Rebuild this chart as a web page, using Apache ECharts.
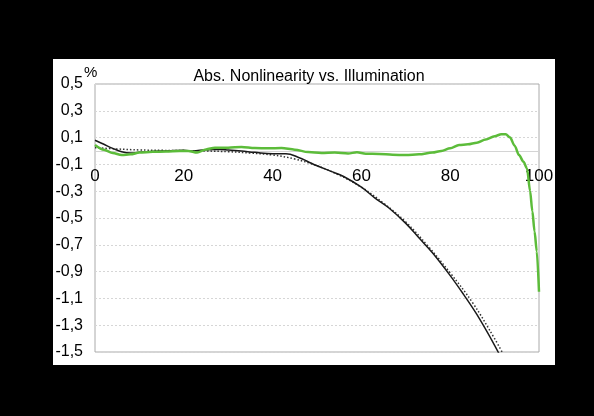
<!DOCTYPE html>
<html>
<head>
<meta charset="utf-8">
<script src="https://cdn.jsdelivr.net/npm/echarts@6/dist/echarts.min.js"></script>
<style>
  html, body { margin: 0; padding: 0; background: #000; }
  #panel { position: absolute; left: 53px; top: 59px; width: 502px; height: 306px; background: #fff; }
  #chart { position: absolute; left: 0; top: 0; width: 594px; height: 416px; }
</style>
</head>
<body>
<div id="panel"></div>
<div id="chart"></div>
<script>
// Tick values
const xTicks = [0, 20, 40, 60, 80, 100];
const yTicks = [-1.5, -1.3, -1.1, -0.9, -0.7, -0.5, -0.3, -0.1, 0.1, 0.3, 0.5];

// Measured nonlinearity (black solid)
const blackX = [0, 2, 4, 6, 8, 10, 12, 15, 18, 20, 22, 25, 28, 30, 33, 36, 40, 43, 46, 48, 50, 53, 56, 60, 63, 66, 70, 73, 76, 80, 83, 86, 90, 92];
const blackY = [0.08, 0.05, 0.02, -0.005, -0.015, -0.01, -0.005, 0.0, 0.003, 0.005, 0.0, 0.01, 0.012, 0.008, 0.0, -0.01, -0.02, -0.02, -0.05, -0.08, -0.11, -0.15, -0.19, -0.27, -0.35, -0.42, -0.54, -0.65, -0.76, -0.93, -1.07, -1.22, -1.45, -1.58];

// Fit (dotted)
const fitX = [0, 5, 10, 15, 20, 25, 30, 35, 40, 45, 50, 55, 60, 65, 70, 75, 80, 85, 90, 92];
const fitY = [0.025, 0.015, 0.008, 0.005, 0.003, 0.0, -0.005, -0.015, -0.03, -0.06, -0.11, -0.18, -0.27, -0.39, -0.53, -0.71, -0.91, -1.13, -1.40, -1.52];

// Corrected nonlinearity (green)
const greenX = [0, 2, 4, 6, 8, 10, 13, 16, 19, 21, 23, 25, 27, 30, 33, 36, 39, 42, 45, 48, 51, 54, 57, 59, 61, 64, 67, 70, 73, 76, 78, 80, 82, 84, 86, 88, 90, 91.5, 92.5, 93.5, 94.5, 95.5, 96.5, 97.3, 98, 98.5, 99, 99.5, 100];
const greenY = [0.045, 0.01, -0.015, -0.03, -0.025, -0.012, -0.006, -0.004, 0.0, 0.0, -0.012, 0.012, 0.025, 0.025, 0.03, 0.022, 0.02, 0.022, 0.01, -0.008, -0.015, -0.012, -0.018, -0.01, -0.02, -0.022, -0.028, -0.03, -0.025, -0.012, 0.0, 0.02, 0.045, 0.05, 0.062, 0.085, 0.11, 0.125, 0.125, 0.1, 0.04, -0.03, -0.08, -0.13, -0.3, -0.45, -0.6, -0.75, -1.05];

const pairs = (xs, ys) => xs.map((x, i) => [x, ys[i]]);
const fmt = v => (Math.round(v * 10) / 10).toFixed(1).replace('.', ',');

const chart = echarts.init(document.getElementById('chart'), null, { renderer: 'canvas' });
const option = {
  backgroundColor: 'transparent',
  animation: false,
  title: {
    text: 'Abs. Nonlinearity vs. Illumination',
    left: 304, top: 64, textAlign: 'center',
    textStyle: { fontFamily: 'Liberation Sans, Arial, sans-serif', fontSize: 16, fontWeight: 'normal', color: '#000' }
  },
  graphic: [{
    type: 'text', left: 84, top: 65,
    style: { text: '%', font: '15px "Liberation Sans", Arial, sans-serif', fill: '#000' }
  }],
  grid: {
    left: 95, right: 55, top: 84, bottom: 64,
    show: true, borderColor: '#aaa', borderWidth: 1, backgroundColor: 'transparent'
  },
  xAxis: {
    type: 'value', position: 'bottom', offset: 0,
    min: xTicks[0], max: xTicks[xTicks.length - 1], interval: xTicks[1] - xTicks[0],
    axisLine: { show: true, onZero: false, lineStyle: { color: '#d4d4d4', width: 1 } },
    axisTick: { show: false },
    splitLine: { show: false },
    axisLabel: {
      show: true, margin: 17, color: '#000', fontSize: 17,
      fontFamily: 'Liberation Sans, Arial, sans-serif',
      showMinLabel: true, showMaxLabel: true
    }
  },
  yAxis: {
    type: 'value', min: yTicks[0], max: yTicks[yTicks.length - 1], interval: 0.2,
    axisLine: { show: false },
    axisTick: { show: false },
    splitLine: { show: true, lineStyle: { color: '#d6d6d6', type: [2, 2], width: 1 } },
    axisLabel: {
      margin: 12, color: '#000', fontSize: 16,
      fontFamily: 'Liberation Sans, Arial, sans-serif',
      formatter: v => fmt(v)
    }
  },
  series: [
    {
      type: 'line', name: 'fit', data: pairs(fitX, fitY), smooth: 0.4, showSymbol: false,
      lineStyle: { color: '#333', width: 1.5, type: [1.5, 2] }, clip: true, z: 3
    },
    {
      type: 'line', name: 'measured', data: pairs(blackX, blackY), smooth: 0.4, showSymbol: false,
      lineStyle: { color: '#1a1a1a', width: 1.5 }, clip: true, z: 4
    },
    {
      type: 'line', name: 'corrected', data: pairs(greenX, greenY), smooth: 0.3, smoothMonotone: 'x', showSymbol: false,
      lineStyle: { color: '#5cbc3a', width: 2.5 }, clip: true, z: 5
    }
  ]
};
chart.setOption(option);
// Move the x axis to cross the value axis at zero (as in the original)
const zeroY = chart.convertToPixel({ yAxisIndex: 0 }, 0);
const bottomY = chart.convertToPixel({ yAxisIndex: 0 }, yTicks[0]);
chart.setOption({ xAxis: { offset: zeroY - bottomY } });
</script>
</body>
</html>
